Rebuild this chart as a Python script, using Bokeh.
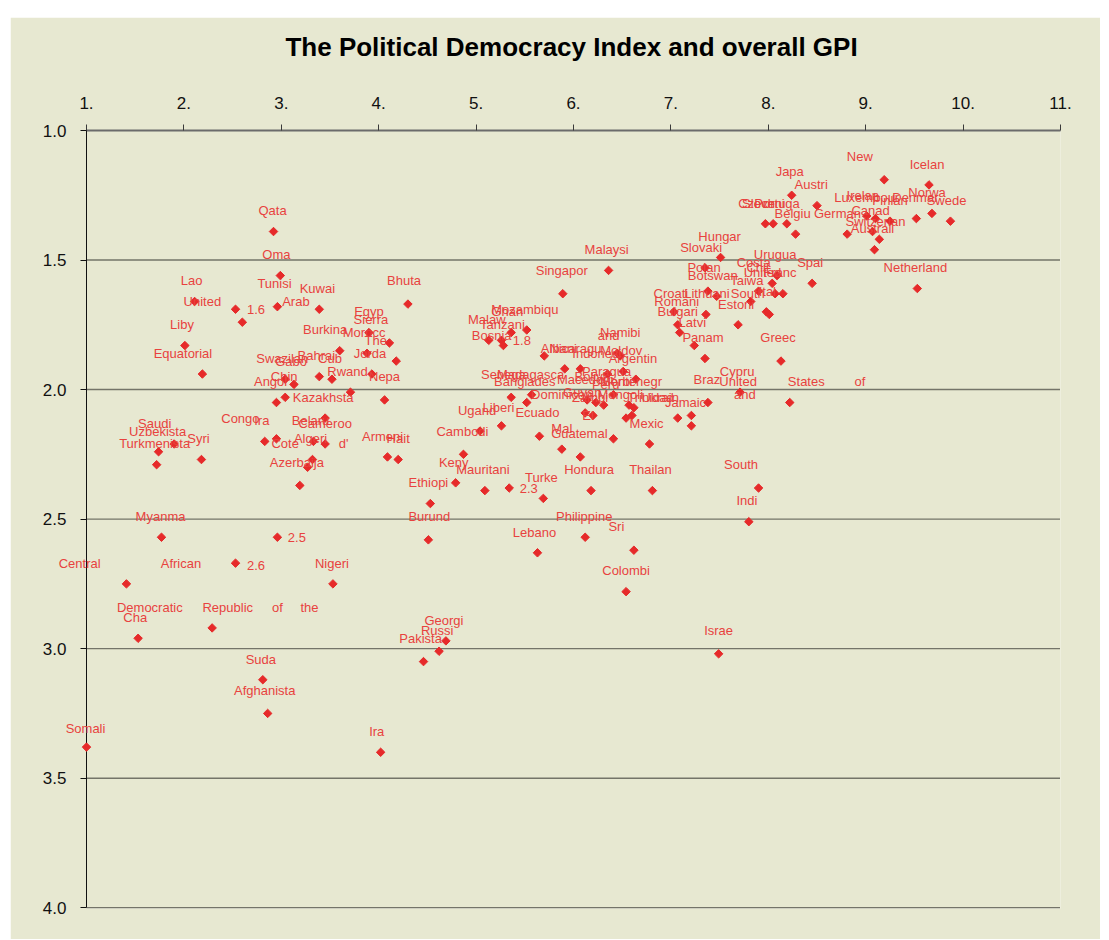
import math
from bokeh.plotting import figure
from bokeh.models import Range1d, LinearAxis, FixedTicker
from bokeh.core.properties import value
from bokeh.embed import file_html
from bokeh.resources import INLINE

# ---------------- data ----------------
democracy = [9.19, 9.65, 8.24, 8.50, 7.97, 8.05, 8.19, 8.28, 9.01, 9.10,
             9.25, 9.52, 9.68, 9.87, 8.81, 9.07, 9.14, 9.09, 9.53, 7.51,
             6.36, 7.35, 8.45, 8.09, 8.04, 7.90, 8.07, 8.15, 7.38, 7.47,
             7.82, 7.36, 7.03, 7.07, 7.09, 7.69, 7.98, 8.01, 7.24, 7.35,
             8.13, 7.71, 7.38, 8.22, 7.07, 7.21, 7.21, 5.89, 4.30, 5.36,
             5.52, 5.13, 5.26, 5.28, 5.70, 5.91, 6.07, 6.35, 6.51, 6.64,
             6.45, 6.48, 5.36, 5.57, 5.52, 5.26, 5.04, 5.65, 6.41, 5.88,
             6.07, 6.78, 6.12, 6.20, 6.14, 6.23, 6.31, 6.41, 6.57, 6.62,
             6.54, 6.60, 4.87, 4.79, 5.09, 5.34, 5.69, 6.18, 6.81, 4.53,
             4.51, 5.63, 6.12, 6.62, 6.54, 4.69, 4.62, 4.46, 4.02, 4.09,
             4.20, 4.06, 2.92, 2.99, 2.11, 2.53, 2.60, 2.96, 3.39, 3.90,
             4.11, 3.60, 3.88, 4.18, 2.01, 2.19, 3.39, 3.52, 3.04, 3.13,
             3.71, 3.93, 3.04, 2.95, 3.45, 2.83, 2.95, 3.33, 3.45, 1.90,
             1.74, 1.72, 2.18, 3.32, 3.27, 3.19, 1.77, 2.96, 2.53, 3.53,
             1.41, 2.29, 1.53, 2.81, 2.86, 1.00, 7.90, 7.80, 7.49]
gpi = [1.19, 1.21, 1.25, 1.29, 1.36, 1.36, 1.36, 1.40, 1.33, 1.34,
       1.35, 1.34, 1.32, 1.35, 1.40, 1.39, 1.42, 1.46, 1.61, 1.49,
       1.54, 1.53, 1.59, 1.56, 1.59, 1.62, 1.63, 1.63, 1.62, 1.64,
       1.66, 1.71, 1.70, 1.75, 1.78, 1.75, 1.70, 1.71, 1.83, 1.88,
       1.89, 2.01, 2.05, 2.05, 2.11, 2.10, 2.14, 1.63, 1.67, 1.78,
       1.77, 1.81, 1.81, 1.83, 1.87, 1.92, 1.92, 1.94, 1.93, 1.96,
       1.86, 1.87, 2.03, 2.02, 2.05, 2.14, 2.16, 2.18, 2.19, 2.23,
       2.26, 2.21, 2.09, 2.10, 2.04, 2.05, 2.06, 2.02, 2.06, 2.07,
       2.11, 2.10, 2.25, 2.36, 2.39, 2.38, 2.42, 2.39, 2.39, 2.44,
       2.58, 2.63, 2.57, 2.62, 2.78, 2.97, 3.01, 3.05, 3.40, 2.26,
       2.27, 2.04, 1.39, 1.56, 1.66, 1.69, 1.74, 1.68, 1.69, 1.78,
       1.82, 1.85, 1.86, 1.89, 1.83, 1.94, 1.95, 1.96, 1.96, 1.98,
       2.01, 1.94, 2.03, 2.05, 2.11, 2.20, 2.19, 2.20, 2.21, 2.21,
       2.24, 2.29, 2.27, 2.27, 2.30, 2.37, 2.57, 2.57, 2.67, 2.75,
       2.75, 2.92, 2.96, 3.12, 3.25, 3.38, 2.38, 2.51, 3.02]

label_text = [
    "New", "Icelan", "Japa", "Austri", "Norwa", "Luxembour", "Irelan", "Finlan",
    "Denmar", "Swede", "Czech", "Sloveni", "Portuga", "Belgiu", "German", "Canad",
    "Switzerlan", "Australi", "Netherland", "Hungar", "Slovaki", "Malaysi", "Urugua",
    "Costa", "Spai", "Polan", "Chil", "Botswan", "United", "Franc", "Taiwa", "Croati",
    "Lithuani", "South", "Ital", "Romani", "Estoni", "Bulgari", "Latvi", "Panam",
    "Greec", "Cypru", "Braz", "United", "States", "of", "and", "Jamaic", "Mexic",
    "South", "Indi", "Israe",
    "Singapor", "Bhuta", "Mozambiqu", "Ghan", "Malaw", "Tanzani", "Bosnia", "1.8",
    "Albani", "Nicaragu", "Namibi", "and", "Indonesi", "Moldov", "Argentin",
    "Madagasca", "Senega", "Banglades", "Paragua", "Bolivi", "Macedoni", "Serbi",
    "Montenegr", "Peru", "Dominican", "Guyan", "Zambi", "Mongoli", "Trinidad",
    "Ukrain", "Ugand", "Liberi", "Ecuado", "El", "Mal", "Guatemal", "Cambodi",
    "Keny", "Mauritani", "Hondura", "Thailan", "Turke", "Ethiopi", "2.3", "Burund",
    "Philippine", "Lebano", "Sri", "Colombi", "Georgi", "Russi", "Pakista", "Ira",
    "Qata", "Oma", "Lao", "Tunisi", "Kuwai", "United", "1.6", "Arab", "Egyp",
    "Sierra", "Morocc", "Burkina", "The", "Liby", "Jorda", "Equatorial", "Swazilan",
    "Gabo", "Bahrai", "Cub", "Rwand", "Chin", "Angol", "Nepa", "Kazakhsta", "Congo",
    "Ira", "Belaru", "Cameroo", "Saudi", "Uzbekista", "Syri", "Turkmenista",
    "Algeri", "Cote", "d'", "Armeni", "Hait", "Azerbaija", "Myanma", "2.5",
    "Central", "African", "2.6", "Nigeri", "Democratic", "Republic", "of", "the",
    "Cha", "Suda", "Afghanista", "Somali"]
label_x = [
    8.94, 9.63, 8.22, 8.44, 9.63, 9.01, 8.97, 9.25,
    9.51, 9.83, 7.88, 7.95, 8.09, 8.25, 8.71, 9.05,
    9.10, 9.07, 9.51, 7.50, 7.31, 6.34, 8.07,
    7.85, 8.43, 7.34, 7.89, 7.43, 7.94, 8.12, 7.78, 7.00,
    7.37, 7.79, 7.99, 7.06, 7.67, 7.07, 7.22, 7.33,
    8.10, 7.68, 7.37, 7.69, 8.39, 8.94, 7.76, 7.15, 6.75,
    7.72, 7.78, 7.49,
    5.88, 4.26, 5.50, 5.32, 5.11, 5.27, 5.16, 5.47,
    5.85, 6.02, 6.48, 6.36, 6.24, 6.49, 6.61,
    5.56, 5.28, 5.50, 6.34, 6.17, 6.12, 6.45,
    6.59, 6.33, 5.88, 6.09, 6.17, 6.48, 6.79,
    6.89, 5.01, 5.23, 5.63, 6.15, 5.88, 6.06, 4.86,
    4.77, 5.07, 6.16, 6.79, 5.67, 4.51, 5.54, 4.52,
    6.11, 5.60, 6.44, 6.54, 4.67, 4.60, 4.43, 3.98,
    2.91, 2.95, 2.08, 2.93, 3.37, 2.19, 2.74, 3.15, 3.90,
    3.92, 3.85, 3.45, 3.97, 1.98, 3.91, 1.99, 3.01,
    3.10, 3.36, 3.50, 3.68, 3.03, 2.89, 4.06, 3.43, 2.58,
    2.80, 3.30, 3.45, 1.70, 1.73, 2.15, 1.70,
    3.30, 3.04, 3.64, 4.04, 4.20, 3.16, 1.76, 3.16,
    0.93, 1.97, 2.74, 3.52, 1.65, 2.45, 2.96, 3.29,
    1.50, 2.79, 2.83, 0.99]
label_y = [
    1.10, 1.13, 1.16, 1.21, 1.24, 1.26, 1.25, 1.27,
    1.26, 1.27, 1.28, 1.28, 1.28, 1.32, 1.32, 1.31,
    1.35, 1.38, 1.53, 1.41, 1.45, 1.46, 1.48,
    1.51, 1.51, 1.53, 1.53, 1.56, 1.55, 1.55, 1.58, 1.63,
    1.63, 1.63, 1.62, 1.66, 1.67, 1.70, 1.74, 1.80,
    1.80, 1.93, 1.96, 1.97, 1.97, 1.97, 2.02, 2.05, 2.13,
    2.29, 2.43, 2.93,
    1.54, 1.58, 1.69, 1.70, 1.73, 1.75, 1.79, 1.81,
    1.84, 1.84, 1.78, 1.79, 1.86, 1.85, 1.88,
    1.94, 1.94, 1.97, 1.93, 1.95, 1.96, 1.97,
    1.97, 1.98, 2.02, 2.01, 2.03, 2.02, 2.03,
    2.03, 2.08, 2.07, 2.09, 2.10, 2.15, 2.17, 2.16,
    2.28, 2.31, 2.31, 2.31, 2.34, 2.36, 2.38, 2.49,
    2.49, 2.55, 2.53, 2.70, 2.89, 2.93, 2.96, 3.32,
    1.31, 1.48, 1.58, 1.59, 1.61, 1.66, 1.69, 1.66, 1.70,
    1.73, 1.78, 1.77, 1.81, 1.75, 1.86, 1.86, 1.88,
    1.89, 1.87, 1.88, 1.93, 1.95, 1.97, 1.95, 2.03, 2.11,
    2.12, 2.12, 2.13, 2.13, 2.16, 2.19, 2.21,
    2.19, 2.21, 2.21, 2.18, 2.19, 2.28, 2.49, 2.57,
    2.67, 2.67, 2.68, 2.67, 2.84, 2.84, 2.84, 2.84,
    2.88, 3.04, 3.16, 3.31]

x_ticks = [1, 2, 3, 4, 5, 6, 7, 8, 9, 10, 11]
x_tick_labels = ["1.", "2.", "3.", "4.", "5.", "6.", "7.", "8.", "9.", "10.", "11."]
y_ticks = [1.0, 1.5, 2.0, 2.5, 3.0, 3.5, 4.0]
y_tick_labels = ["1.0", "1.5", "2.0", "2.5", "3.0", "3.5", "4.0"]

title_text = "The Political Democracy Index and overall GPI"

# ---------------- styles ----------------
BEIGE = "#e7e8d1"
OUTER = "#c9cbdc"
POINT_RED = "#e62a2a"
LABEL_RED = "#e8423e"
FONT = "Liberation Sans"

p = figure(width=1090, height=922,
           x_range=Range1d(x_ticks[0], x_ticks[-1]),
           y_range=Range1d(4.003, 1.0),
           x_axis_location=None, y_axis_location=None,
           toolbar_location=None, output_backend="svg",
           background_fill_color=BEIGE, border_fill_color=BEIGE,
           outline_line_color=None,
           min_border_left=76, min_border_right=40,
           min_border_top=113, min_border_bottom=31,
           margin=(17, 0, 0, 10))
p.grid.visible = False

# horizontal dotted grid lines (from the y tick values)
grid_vals = y_ticks[1:]
grid = p.segment(x0=[x_ticks[0]] * len(grid_vals), x1=[x_ticks[-1]] * len(grid_vals),
                 y0=grid_vals, y1=grid_vals,
                 line_color="#000000", line_width=1.4, line_dash="1 1")
grid.level = "underlay"

# top axis
xa = LinearAxis(ticker=FixedTicker(ticks=x_ticks),
                major_label_overrides={t: l for t, l in zip(x_ticks, x_tick_labels)},
                axis_line_color="#6b6b6b", axis_line_width=2,
                major_tick_line_color="#3a3a3a", major_tick_out=6, major_tick_in=0,
                minor_tick_out=0, minor_tick_in=0,
                major_label_standoff=16,
                major_label_text_font=FONT, major_label_text_font_size="17px",
                major_label_text_color="#111111")
p.add_layout(xa, "above")

# left axis
ya = LinearAxis(ticker=FixedTicker(ticks=y_ticks),
                major_label_overrides={t: l for t, l in zip(y_ticks, y_tick_labels)},
                bounds=(y_ticks[0], y_ticks[-1]),
                axis_line_color="#111111", axis_line_width=1,
                major_tick_line_color="#111111", major_tick_out=6, major_tick_in=0,
                minor_tick_out=0, minor_tick_in=0,
                major_label_standoff=14,
                major_label_text_font=FONT, major_label_text_font_size="17px",
                major_label_text_color="#111111")
p.add_layout(ya, "left")

# points (rotated squares)
pts = p.scatter(x=democracy, y=gpi, marker="square", size=6, angle=math.pi / 4,
                fill_color=POINT_RED, line_color=POINT_RED)
pts.level = "overlay"

# labels
lbl = p.text(x=label_x, y=label_y, text=label_text,
             text_align="center", text_baseline="middle",
             text_font=value(FONT), text_font_size="13px", text_color=LABEL_RED)
lbl.level = "overlay"

# title, centred above the plot area
ttl = p.text(x=[5.98], y=[0.678], text=[title_text],
             text_align="center", text_baseline="middle",
             text_font=value(FONT), text_font_size="26px", text_font_style="bold",
             text_color="#000000")
ttl.level = "overlay"

html = file_html(p, INLINE, title=title_text)
html = html.replace("<body>", '<body style="margin:0;background-color:%s;">' % OUTER, 1)
open("out.html", "w").write(html)
